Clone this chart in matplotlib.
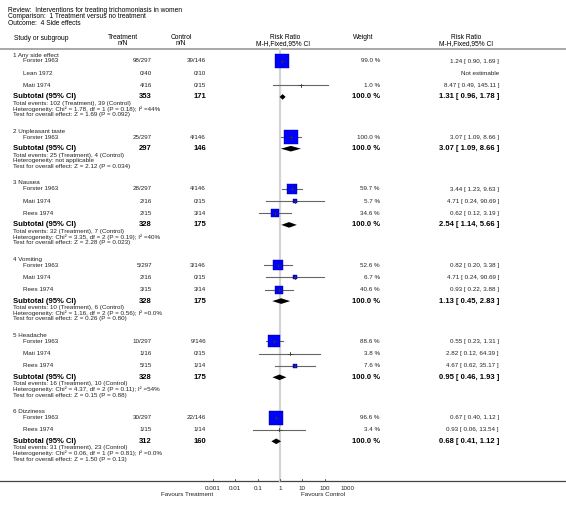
import numpy as np
import matplotlib
matplotlib.use("Agg")
import matplotlib.pyplot as plt

plt.rcParams['font.family'] = ['Liberation Sans', 'DejaVu Sans']

# ---- data ----
groups = ["1 Any side effect", "2 Unpleasant taste", "3 Nausea",
          "4 Vomiting", "5 Headache", "6 Dizziness"]

studies = [
    ["Forster 1963", "Lean 1972", "Mati 1974"],
    ["Forster 1963"],
    ["Forster 1963", "Mati 1974", "Rees 1974"],
    ["Forster 1963", "Mati 1974", "Rees 1974"],
    ["Forster 1963", "Mati 1974", "Rees 1974"],
    ["Forster 1963", "Rees 1974"],
]
treat_nN = [
    ["98/297", "0/40", "4/16"],
    ["25/297"],
    ["28/297", "2/16", "2/15"],
    ["5/297", "2/16", "3/15"],
    ["10/297", "1/16", "5/15"],
    ["30/297", "1/15"],
]
ctrl_nN = [
    ["39/146", "0/10", "0/15"],
    ["4/146"],
    ["4/146", "0/15", "3/14"],
    ["3/146", "0/15", "3/14"],
    ["9/146", "0/15", "1/14"],
    ["22/146", "1/14"],
]
# weight (%), risk ratio, lower, upper ; None = not estimable
weights = [
    [99.0, None, 1.0],
    [100.0],
    [59.7, 5.7, 34.6],
    [52.6, 6.7, 40.6],
    [88.6, 3.8, 7.6],
    [96.6, 3.4],
]
rr = [
    [1.24, None, 8.47],
    [3.07],
    [3.44, 4.71, 0.62],
    [0.82, 4.71, 0.93],
    [0.55, 2.82, 4.67],
    [0.67, 0.93],
]
rr_lo = [
    [0.90, None, 0.49],
    [1.09],
    [1.23, 0.24, 0.12],
    [0.20, 0.24, 0.22],
    [0.23, 0.12, 0.62],
    [0.40, 0.06],
]
rr_hi = [
    [1.69, None, 145.11],
    [8.66],
    [9.63, 90.69, 3.19],
    [3.38, 90.69, 3.88],
    [1.31, 64.39, 35.17],
    [1.12, 13.54],
]
sub_treat = [353, 297, 328, 328, 328, 312]
sub_ctrl = [171, 146, 175, 175, 175, 160]
sub_rr = [1.31, 3.07, 2.54, 1.13, 0.95, 0.68]
sub_lo = [0.96, 1.09, 1.14, 0.45, 0.46, 0.41]
sub_hi = [1.78, 8.66, 5.66, 2.83, 1.93, 1.12]
total_events = [
    "Total events: 102 (Treatment), 39 (Control)",
    "Total events: 25 (Treatment), 4 (Control)",
    "Total events: 32 (Treatment), 7 (Control)",
    "Total events: 10 (Treatment), 6 (Control)",
    "Total events: 16 (Treatment), 10 (Control)",
    "Total events: 31 (Treatment), 23 (Control)",
]
heterogeneity = [
    "Heterogeneity: Chi² = 1.78, df = 1 (P = 0.18); I² =44%",
    "Heterogeneity: not applicable",
    "Heterogeneity: Chi² = 3.35, df = 2 (P = 0.19); I² =40%",
    "Heterogeneity: Chi² = 1.16, df = 2 (P = 0.56); I² =0.0%",
    "Heterogeneity: Chi² = 4.37, df = 2 (P = 0.11); I² =54%",
    "Heterogeneity: Chi² = 0.06, df = 1 (P = 0.81); I² =0.0%",
]
overall = [
    "Test for overall effect: Z = 1.69 (P = 0.092)",
    "Test for overall effect: Z = 2.12 (P = 0.034)",
    "Test for overall effect: Z = 2.28 (P = 0.023)",
    "Test for overall effect: Z = 0.26 (P = 0.80)",
    "Test for overall effect: Z = 0.15 (P = 0.88)",
    "Test for overall effect: Z = 1.50 (P = 0.13)",
]
tick_vals = [0.001, 0.01, 0.1, 1, 10, 100, 1000]
tick_labels = ["0.001", "0.01", "0.1", "1", "10", "100", "1000"]

# ---- figure: one text layer in pixel units, one log axis for the marks ----
W, H = 566, 513
fig = plt.figure(figsize=(W / 100, H / 100), dpi=100)
tx = fig.add_axes([0, 0, 1, 1])
tx.set_xlim(0, W)
tx.set_ylim(H, 0)
tx.axis("off")

x0, x1 = 213, 347
fx = fig.add_axes([x0 / W, 0, (x1 - x0) / W, 1])
fx.set_xscale("log")
fx.set_xlim(0.001, 1000)
fx.set_ylim(H, 0)
fx.patch.set_alpha(0)
for s in fx.spines.values():
    s.set_visible(False)
fx.set_yticks([])

fs_small = 4.5
fs_head = 4.8
fs_bold = 5.5
col_tr, col_ct, col_w, col_rr = 152, 206, 380, 499

def small(x, y, s, ha="left", **kw):
    tx.text(x, y, s, ha=ha, va="center", fontsize=fs_small, color="#222222", **kw)

# title block
tx.text(8, 10, "Review:  Interventions for treating trichomoniasis in women", fontsize=fs_head, va="center")
tx.text(8, 16.7, "Comparison:  1 Treatment versus no treatment", fontsize=fs_head, va="center")
tx.text(8, 23.3, "Outcome:  4 Side effects", fontsize=fs_head, va="center")

# column headers
tx.text(14, 38, "Study or subgroup", fontsize=fs_head, va="center")
tx.text(123, 37.5, "Treatment", fontsize=fs_head, va="center", ha="center")
tx.text(123, 43.3, "n/N", fontsize=fs_head, va="center", ha="center")
tx.text(181, 37.5, "Control", fontsize=fs_head, va="center", ha="center")
tx.text(181, 43.3, "n/N", fontsize=fs_head, va="center", ha="center")
tx.text(285, 37.5, "Risk Ratio", fontsize=fs_head, va="center", ha="center")
tx.text(283, 43.3, "M-H,Fixed,95% CI", fontsize=fs_head, va="center", ha="center")
tx.text(363, 37.5, "Weight", fontsize=fs_head, va="center", ha="center")
tx.text(466, 37.5, "Risk Ratio", fontsize=fs_head, va="center", ha="center")
tx.text(466, 43.3, "M-H,Fixed,95% CI", fontsize=fs_head, va="center", ha="center")

top_line, axis_y = 49, 481
tx.plot([0, W], [top_line, top_line], color="#999999", lw=1.2)
tx.plot([0, W], [axis_y, axis_y], color="#444444", lw=0.9)
fx.plot([1, 1], [top_line, axis_y], color="#d4d4d4", lw=1.6, zorder=0)

# rows
y = 55.0
for g in range(len(groups)):
    small(13, y, groups[g])
    y += 6.0
    for i, name in enumerate(studies[g]):
        small(23, y, name)
        small(col_tr, y, treat_nN[g][i], ha="right")
        small(col_ct, y, ctrl_nN[g][i], ha="right")
        if rr[g][i] is None:
            small(col_rr, y, "Not estimable", ha="right")
        else:
            small(col_w, y, f"{weights[g][i]:.1f} %", ha="right")
            small(col_rr, y, f"{rr[g][i]:.2f} [ {rr_lo[g][i]:.2f}, {rr_hi[g][i]:.2f} ]", ha="right")
            side = np.sqrt(weights[g][i] / 100.0) * 13.5
            fx.plot([rr_lo[g][i], rr_hi[g][i]], [y, y], color="#666666", lw=0.8, zorder=2)
            if side >= 3:
                fx.plot(rr[g][i], y, marker="s", ms=side * 0.72, color="#0000ff",
                        mec="#00008b", mew=0.3, zorder=3)
            fx.plot([rr[g][i], rr[g][i]], [y - 1.5, y + 1.5], color="#333333", lw=0.6, zorder=4)
            fx.plot([max(rr_lo[g][i], rr[g][i] / 1.3), min(rr_hi[g][i], rr[g][i] * 1.3)], [y, y],
                    color="#333333", lw=0.4, zorder=4)
        y += 12.2
    y -= 12.2 - 11.5
    tx.text(13, y, "Subtotal (95% CI)", fontsize=fs_bold, fontweight="bold", va="center")
    tx.text(col_tr, y, str(sub_treat[g]), fontsize=fs_bold, fontweight="bold", va="center", ha="right")
    tx.text(col_ct, y, str(sub_ctrl[g]), fontsize=fs_bold, fontweight="bold", va="center", ha="right")
    tx.text(col_w, y, "100.0 %", fontsize=fs_bold, fontweight="bold", va="center", ha="right")
    tx.text(col_rr, y, f"{sub_rr[g]:.2f} [ {sub_lo[g]:.2f}, {sub_hi[g]:.2f} ]",
            fontsize=fs_bold, fontweight="bold", va="center", ha="right")
    fx.fill([sub_lo[g], sub_rr[g], sub_hi[g], sub_rr[g]], [y, y - 2.8, y, y + 2.8],
            color="black", lw=0, zorder=3)
    y += 6.6
    small(13, y, total_events[g])
    y += 5.5
    small(13, y, heterogeneity[g])
    y += 5.6
    small(13, y, overall[g])
    y += 16.6

# log axis ticks on the bottom line
for t, lab in zip(tick_vals, tick_labels):
    fx.plot([t, t], [axis_y, axis_y - 2.5], color="#444444", lw=0.6)
    fx.text(t, 488, lab, fontsize=fs_small, ha="center", va="center", color="#222222")
fx.set_xticks([])
fx.minorticks_off()

small(x0, 494.5, "Favours Treatment", ha="right")
small(301, 494.5, "Favours Control")

fig.savefig("out.png", dpi=100)
